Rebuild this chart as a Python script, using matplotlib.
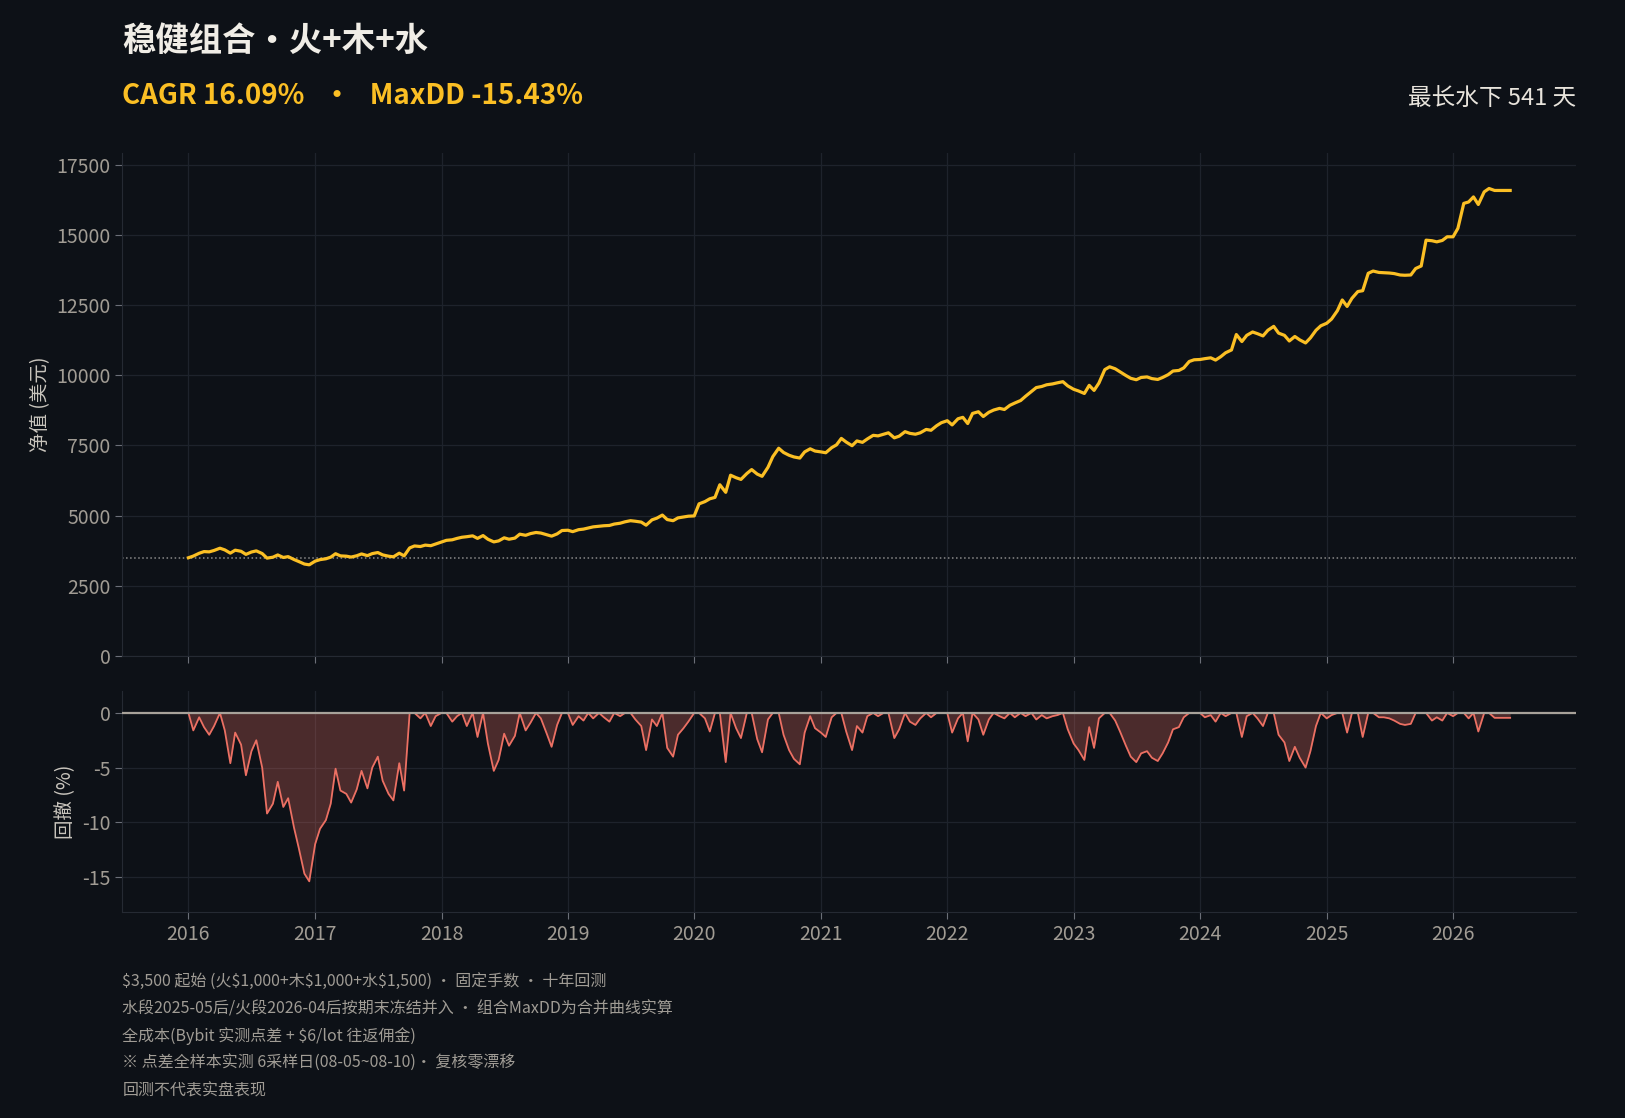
import matplotlib
matplotlib.use("Agg")
import matplotlib.pyplot as plt
import matplotlib.dates as mdates
import pandas as pd

plt.rcParams['font.family'] = ['Noto Sans CJK SC', 'DejaVu Sans']
plt.rcParams['axes.unicode_minus'] = False

# semi-monthly samples (1st and 15th of each month)
dates = pd.date_range('2016-01-01', '2026-06-15', freq='SMS')

equity = [
    # 2016
    3500, 3560, 3660, 3720, 3710, 3760, 3840, 3780, 3665, 3770, 3730, 3620,
    3705, 3745, 3650, 3487, 3520, 3600, 3510, 3540, 3437, 3364, 3276, 3249,
    # 2017
    3379, 3433, 3464, 3521, 3644, 3567, 3556, 3525, 3571, 3636, 3575, 3648,
    3686, 3602, 3556, 3533, 3663, 3567, 3850, 3920, 3900, 3950, 3930, 3990,
    # 2018
    4060, 4120, 4140, 4190, 4230, 4250, 4280, 4190, 4290, 4160, 4065, 4100,
    4210, 4160, 4200, 4340, 4300, 4360, 4400, 4380, 4320, 4270, 4350, 4470,
    # 2019
    4480, 4430, 4500, 4520, 4560, 4600, 4620, 4640, 4650, 4700, 4730, 4780,
    4820, 4800, 4770, 4660, 4850, 4910, 5020, 4860, 4820, 4920, 4950, 4980,
    # 2020
    4990, 5420, 5500, 5600, 5650, 6100, 5830, 6440, 6350, 6290, 6500, 6640,
    6480, 6400, 6720, 7100, 7400, 7250, 7150, 7090, 7050, 7270, 7380, 7300,
    # 2021
    7270, 7240, 7420, 7520, 7750, 7620, 7490, 7660, 7610, 7730, 7860, 7840,
    7900, 7950, 7770, 7830, 7990, 7930, 7900, 7950, 8070, 8040, 8200, 8310,
    # 2022
    8380, 8230, 8450, 8500, 8280, 8640, 8700, 8530, 8680, 8760, 8820, 8780,
    8930, 9010, 9100, 9250, 9420, 9560, 9600, 9660, 9690, 9730, 9770, 9620,
    # 2023
    9500, 9440, 9350, 9640, 9460, 9720, 10200, 10300, 10230, 10120, 9990, 9890,
    9840, 9920, 9940, 9880, 9850, 9920, 10020, 10150, 10170, 10260, 10490, 10550,
    # 2024
    10560, 10590, 10620, 10540, 10660, 10800, 10900, 11450, 11200, 11420, 11540, 11480,
    11400, 11600, 11740, 11500, 11420, 11220, 11380, 11260, 11150, 11330, 11600, 11760,
    # 2025
    11850, 12000, 12300, 12680, 12450, 12740, 12980, 13010, 13630, 13710, 13660, 13650,
    13640, 13620, 13570, 13560, 13570, 13800, 13890, 14810, 14790, 14750, 14800, 14930,
    # 2026
    14930, 15230, 16120, 16170, 16350, 16080, 16530, 16650, 16580, 16580, 16580, 16580,
]

drawdown = [
    # 2016
    0, -1.6, -0.4, -1.3, -2.0, -1.2, 0, -1.6, -4.6, -1.8, -2.9, -5.7,
    -3.5, -2.5, -5.0, -9.2, -8.3, -6.3, -8.6, -7.8, -10.5, -12.4, -14.7, -15.4,
    # 2017
    -12.0, -10.6, -9.8, -8.3, -5.1, -7.1, -7.4, -8.2, -7.0, -5.3, -6.9, -5.0,
    -4.0, -6.2, -7.4, -8.0, -4.6, -7.1, 0, 0, -0.5, 0, -1.2, -0.3,
    # 2018
    0, 0, -0.8, -0.3, 0, -1.2, 0, -2.2, 0, -2.8, -5.3, -4.3,
    -1.9, -3.0, -2.1, 0, -1.6, -0.9, 0, -0.5, -1.9, -3.1, -1.1, 0,
    # 2019
    0, -1.1, -0.3, -0.7, 0, -0.5, 0, -0.4, -0.8, 0, -0.3, 0,
    0, -0.6, -1.2, -3.4, -0.6, -1.2, 0, -3.2, -4.0, -2.0, -1.4, -0.8,
    # 2020
    0, 0, -0.5, -1.7, 0, 0, -4.5, 0, -1.4, -2.3, 0, 0,
    -2.4, -3.6, -0.6, 0, 0, -2.0, -3.4, -4.2, -4.7, -1.8, -0.3, -1.4,
    # 2021
    -1.8, -2.2, -0.4, 0, 0, -1.7, -3.4, -1.2, -1.8, -0.3, 0, -0.3,
    0, 0, -2.3, -1.5, 0, -0.8, -1.1, -0.5, 0, -0.4, 0, 0,
    # 2022
    0, -1.8, -0.5, 0, -2.6, 0, -0.6, -2.0, -0.6, 0, -0.3, -0.5,
    0, -0.4, 0, -0.3, 0, -0.6, -0.2, -0.5, -0.3, -0.2, 0, -1.5,
    # 2023
    -2.8, -3.4, -4.3, -1.3, -3.2, -0.5, 0, 0, -0.7, -1.7, -3.0, -4.0,
    -4.5, -3.7, -3.5, -4.1, -4.4, -3.7, -2.7, -1.5, -1.3, -0.4, 0, 0,
    # 2024
    0, -0.4, -0.2, -0.8, 0, -0.3, 0, 0, -2.2, -0.3, 0, -0.5,
    -1.2, 0, 0, -2.0, -2.7, -4.4, -3.1, -4.1, -5.0, -3.5, -1.2, 0,
    # 2025
    -0.5, -0.2, 0, 0, -1.8, 0, 0, -2.2, 0, 0, -0.4, -0.4,
    -0.5, -0.7, -1.0, -1.1, -1.0, 0, 0, 0, -0.7, -0.4, -0.7, 0,
    # 2026
    -0.3, 0, 0, -0.5, 0, -1.7, 0, 0, -0.45, -0.45, -0.45, -0.45,
]

start_capital = 3500
eq_ticks = [0, 2500, 5000, 7500, 10000, 12500, 15000, 17500]
dd_ticks = [0, -5, -10, -15]

title = '稳健组合•火+木+水'
subtitle = 'CAGR 16.09%   •   MaxDD -15.43%'
underwater = '最长水下 541 天'
notes = [
    '$3,500 起始 (火$1,000+木$1,000+水$1,500) · 固定手数 · 十年回测',
    '水段2025-05后/火段2026-04后按期末冻结并入 · 组合MaxDD为合并曲线实算',
    '全成本(Bybit 实测点差 + $6/lot 往返佣金)',
    '※ 点差全样本实测 6采样日(08-05~08-10)· 复核零漂移',
    '回测不代表实盘表现',
]

BG = '#0d1117'
GOLD = '#fbbf24'
RED = '#ec7063'
GRID = '#1e232c'
TICK = '#a19c94'

L, R = 0.0753, 0.970
fig = plt.figure(figsize=(16.25, 11.18), dpi=100, facecolor=BG)
ax1 = fig.add_axes([L, 0.4132, R - L, 0.8628 - 0.4132])
ax2 = fig.add_axes([L, 0.1843, R - L, 0.3819 - 0.1843], sharex=ax1)

ax1.plot(dates, equity, color=GOLD, lw=2.3, zorder=3)
ax1.axhline(start_capital, color='#8a8a8a', ls=':', lw=1.1, zorder=2)
ax1.set_ylim(0, 17900)
ax1.set_yticks(eq_ticks)
ax1.set_ylabel('净值 (美元)', color='#c9c5bd', fontsize=14, labelpad=4)

ax2.fill_between(dates, drawdown, 0, color=RED, alpha=0.28, lw=0, zorder=2)
ax2.plot(dates, drawdown, color=RED, lw=1.3, zorder=3)
ax2.axhline(0, color='#a8a29a', lw=1.6, zorder=4)
ax2.set_ylim(-18.2, 2)
ax2.set_yticks(dd_ticks)
ax2.set_ylabel('回撤 (%)', color='#c9c5bd', fontsize=14, labelpad=4)

ax2.xaxis.set_major_locator(mdates.YearLocator())
ax2.xaxis.set_major_formatter(mdates.DateFormatter('%Y'))

for ax in (ax1, ax2):
    ax.set_facecolor(BG)
    ax.grid(True, color=GRID, lw=0.9, zorder=0)
    ax.set_axisbelow(True)
    for side in ('top', 'right'):
        ax.spines[side].set_visible(False)
    for side in ('left', 'bottom'):
        ax.spines[side].set_color('#252a33')
    ax.tick_params(colors='#6b6f78', labelcolor=TICK, labelsize=14, length=5)
ax1.tick_params(axis='x', labelbottom=False)

fig.text(L, 0.963, title, color='#f0ede6', fontsize=24, fontweight='bold', va='center')
fig.text(L, 0.9138, subtitle, color=GOLD, fontsize=20, fontweight='bold', va='center')
fig.text(R, 0.912, underwater, color='#e8e4dc', fontsize=17, ha='right', va='center')

for i, line in enumerate(notes):
    fig.text(L, 1 - (982 + i * 27.25) / 1118, line, color='#a09c95', fontsize=11.5,
             va='center', parse_math=False)

fig.savefig('out.png', dpi=100, facecolor=BG)
